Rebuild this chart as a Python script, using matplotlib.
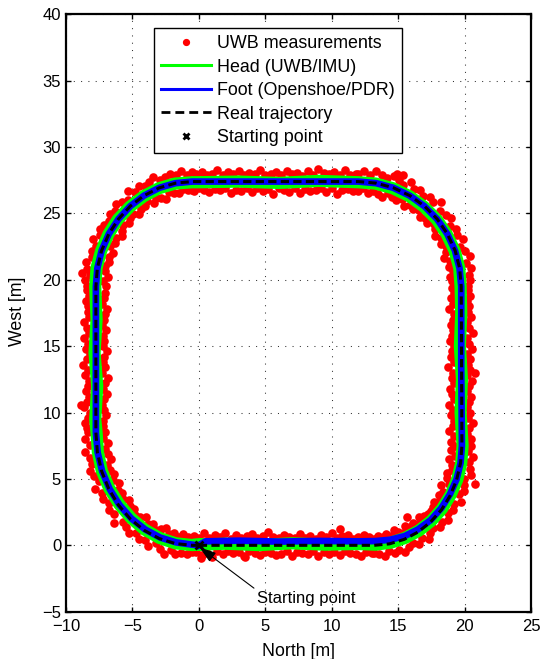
import matplotlib
matplotlib.use("Agg")
import matplotlib.pyplot as plt
from matplotlib.lines import Line2D

plt.rcParams['font.family'] = ['Liberation Sans', 'DejaVu Sans']

# ---------------- data ----------------
# Real trajectory (black dashed)
real_x = [0.0, 13.2, 14.35, 15.46, 16.5, 17.44, 18.26, 18.92, 19.4, 19.7, 19.8, 19.75, 19.63, 19.29, 18.71,
          17.94, 16.98, 15.88, 14.65, 13.35, 12.0, -0.5, -1.76, -2.98, -4.13, -5.16, -6.05, -6.78, -7.32,
          -7.64, -7.75, -7.75, -7.64, -7.32, -6.78, -6.05, -5.16, -4.13, -2.98, -1.76, -0.5, 0.0]
real_y = [0.0, 0.0, 0.11, 0.45, 1.0, 1.76, 2.68, 3.75, 4.93, 6.2, 7.5, 19.5, 20.87, 22.2, 23.45, 24.58,
          25.55, 26.34, 26.93, 27.28, 27.4, 27.4, 27.28, 26.93, 26.34, 25.55, 24.58, 23.45, 22.2, 20.87,
          19.5, 8.5, 7.02, 5.59, 4.25, 3.03, 1.99, 1.14, 0.51, 0.13, 0.0, 0.0]

# Head (UWB/IMU) estimate (green)
head_x = [0.0, 2.0, 4.5, 7.0, 9.5, 12.0, 13.3, 14.45, 15.5, 16.55, 17.5, 18.3, 18.95, 19.45, 19.75, 19.85,
          19.7, 19.8, 19.65, 19.75, 19.7, 19.6, 19.25, 18.65, 17.9, 16.95, 15.85, 14.6, 13.3, 12.0, 9.0,
          6.0, 3.0, 0.0, -0.5, -1.8, -3.0, -4.15, -5.2, -6.1, -6.8, -7.35, -7.7, -7.8, -7.7, -7.85, -7.65,
          -7.8, -7.7, -7.6, -7.3, -6.75, -6.0, -5.1, -4.1, -2.95, -1.75, -0.5, 0.0]
head_y = [0.05, 0.12, 0.02, 0.15, 0.05, 0.1, 0.05, 0.2, 0.55, 1.1, 1.85, 2.75, 3.8, 4.95, 6.2, 7.5, 10.0,
          12.5, 15.0, 17.5, 19.5, 20.9, 22.2, 23.45, 24.55, 25.5, 26.3, 26.9, 27.25, 27.35, 27.45, 27.3,
          27.4, 27.35, 27.35, 27.25, 26.9, 26.3, 25.5, 24.55, 23.45, 22.2, 20.9, 19.5, 17.0, 14.5, 12.0,
          9.5, 8.5, 7.0, 5.6, 4.3, 3.1, 2.05, 1.2, 0.55, 0.15, 0.02, 0.05]

# Foot (Openshoe/PDR) estimate (blue)
foot_x = [0.0, 0.5, 3.0, 6.0, 9.0, 12.0, 13.3, 14.4, 15.5, 16.5, 17.45, 18.25, 18.9, 19.4, 19.7, 19.8,
          19.75, 19.75, 19.62, 19.28, 18.7, 17.93, 16.97, 15.87, 14.64, 13.34, 12.0, -0.5, -1.76, -2.98,
          -4.13, -5.16, -6.05, -6.78, -7.32, -7.64, -7.75, -7.75, -7.62, -7.28, -6.72, -5.98, -5.08,
          -4.05, -2.9, -1.7, -0.5, 0.0]
foot_y = [0.0, 0.3, 0.35, 0.28, 0.33, 0.3, 0.32, 0.42, 0.7, 1.2, 1.9, 2.8, 3.85, 4.98, 6.2, 7.5, 13.5,
          19.5, 20.87, 22.2, 23.45, 24.58, 25.55, 26.34, 26.93, 27.28, 27.4, 27.4, 27.28, 26.93, 26.34,
          25.55, 24.58, 23.45, 22.2, 20.87, 19.5, 8.5, 7.0, 5.58, 4.25, 3.05, 2.02, 1.2, 0.58, 0.22,
          0.05, 0.0]

# UWB measurements (red dots), grouped by part of the loop
uwb_bottom_x = [-0.4, -0.2, 0.0, 0.2, 0.4, 0.6, 0.8, 1.0, 1.2, 1.4, 1.6, 1.8, 2.0, 2.2, 2.4, 2.6, 2.8, 3.0,
                3.2, 3.4, 3.6, 3.8, 4.0, 4.2, 4.4, 4.6, 4.8, 5.0, 5.2, 5.4, 5.6, 5.8, 6.0, 6.2, 6.4, 6.6,
                6.8, 7.0, 7.2, 7.4, 7.6, 7.8, 8.0, 8.2, 8.4, 8.6, 8.8, 9.0, 9.2, 9.4, 9.6, 9.8, 10.0, 10.2,
                10.4, 10.6, 10.8, 11.0, 11.2, 11.4, 11.6, 11.8, 12.0, 12.2, 12.4, 12.6, 12.8, 13.0]
uwb_bottom_y = [0.67, -0.50, 0.53, -0.73, 0.90, -0.55, 0.55, -0.85, 0.75, -0.40,
                0.63, -0.67, 0.95, -0.45, 0.50, -0.61, 0.80, -0.53, 0.57, -0.79,
                0.69, -0.43, 0.85, -0.57, 0.52, -0.70, 0.73, -0.47, 1.00, -0.55,
                0.60, -0.75, 0.55, -0.62, 0.79, -0.41, 0.65, -0.83, 0.54, -0.52,
                0.87, -0.59, 0.58, -0.68, 0.71, -0.45, 0.51, -0.80, 0.76, -0.54,
                0.62, -0.64, 0.93, -0.49, 0.55, -0.73, 0.68, -0.42, 0.81, -0.56,
                0.50, -0.65, 0.64, -0.78, 0.74, -0.47, 0.59, -0.60]

uwb_right_x = [20.28, 19.00, 20.50, 19.18, 20.17, 18.80, 20.36, 19.10, 20.62, 19.22,
               20.25, 18.95, 20.40, 19.14, 20.20, 18.85, 20.32, 19.24, 20.48, 19.06,
               20.22, 18.90, 20.30, 19.20, 20.56, 19.02, 20.15, 19.12, 20.44, 18.78,
               20.27, 19.17, 20.38, 18.98, 20.19, 19.08, 20.53, 19.23, 20.30, 18.92,
               20.20, 19.04, 20.65, 19.15, 20.34, 19.00, 20.16, 19.10, 20.46, 19.20,
               20.25, 18.86, 20.37, 19.13, 20.18, 18.96, 20.40, 19.24, 20.29, 19.05]
uwb_right_y = [7.6, 7.8, 8.0, 8.2, 8.4, 8.6, 8.8, 9.0, 9.2, 9.4, 9.6, 9.8, 10.0, 10.2, 10.4, 10.6, 10.8,
               11.0, 11.2, 11.4, 11.6, 11.8, 12.0, 12.2, 12.4, 12.6, 12.8, 13.0, 13.2, 13.4, 13.6, 13.8,
               14.0, 14.2, 14.4, 14.6, 14.8, 15.0, 15.2, 15.4, 15.6, 15.8, 16.0, 16.2, 16.4, 16.6, 16.8,
               17.0, 17.2, 17.4, 17.6, 17.8, 18.0, 18.2, 18.4, 18.6, 18.8, 19.0, 19.2, 19.4]

uwb_top_x = [11.8, 11.6, 11.4, 11.2, 11.0, 10.8, 10.6, 10.4, 10.2, 10.0, 9.8, 9.6, 9.4, 9.2, 9.0, 8.8,
             8.6, 8.4, 8.2, 8.0, 7.8, 7.6, 7.4, 7.2, 7.0, 6.8, 6.6, 6.4, 6.2, 6.0, 5.8, 5.6, 5.4, 5.2,
             5.0, 4.8, 4.6, 4.4, 4.2, 4.0, 3.8, 3.6, 3.4, 3.2, 3.0, 2.8, 2.6, 2.4, 2.2, 2.0, 1.8, 1.6,
             1.4, 1.2, 1.0, 0.8, 0.6, 0.4, 0.2, 0.0, -0.2, -0.4]
uwb_top_y = [28.00, 26.66, 27.90, 26.82, 28.26, 26.74, 27.87, 26.50, 28.10, 26.88,
             27.95, 26.60, 28.04, 26.95, 28.32, 26.80, 27.90, 26.70, 28.18, 26.85,
             27.85, 26.56, 28.08, 26.90, 27.98, 26.64, 28.22, 26.78, 27.92, 26.92,
             28.14, 26.45, 28.00, 26.84, 27.87, 26.72, 28.28, 26.90, 27.96, 26.60,
             28.05, 26.94, 27.90, 26.68, 28.20, 26.80, 27.94, 26.54, 28.10, 26.88,
             27.86, 26.75, 28.30, 26.83, 28.00, 26.65, 27.90, 26.78, 28.12, 26.91,
             27.97, 26.70]

uwb_left_x = [-8.40, -7.20, -8.60, -7.25, -8.35, -6.97, -8.23, -7.13, -8.67, -7.29,
              -8.45, -7.17, -8.30, -6.90, -8.50, -7.25, -8.37, -7.07, -8.25, -6.85,
              -8.55, -7.28, -8.33, -7.03, -8.70, -7.20, -8.41, -7.15, -8.23, -6.95,
              -8.47, -7.23, -8.35, -7.11, -8.61, -7.25, -8.29, -7.00, -8.43, -7.29,
              -8.65, -7.17, -8.25, -7.05, -8.37, -6.91, -8.31, -7.27, -8.53, -7.15,
              -8.27, -7.09, -8.45]
uwb_left_y = [8.8, 9.0, 9.2, 9.4, 9.6, 9.8, 10.0, 10.2, 10.4, 10.6, 10.8, 11.0, 11.2, 11.4, 11.6, 11.8,
              12.0, 12.2, 12.4, 12.6, 12.8, 13.0, 13.2, 13.4, 13.6, 13.8, 14.0, 14.2, 14.4, 14.6, 14.8,
              15.0, 15.2, 15.4, 15.6, 15.8, 16.0, 16.2, 16.4, 16.6, 16.8, 17.0, 17.2, 17.4, 17.6, 17.8,
              18.0, 18.2, 18.4, 18.6, 18.8, 19.0, 19.2]

uwb_bl_x = [-8.35, -7.05, -8.54, -7.24, -8.21, -6.87, -8.55, -7.07, -8.23, -6.86, -8.03, -6.59, -8.20,
            -6.92, -7.93, -6.66, -7.54, -6.40, -7.81, -6.47, -7.30, -6.00, -7.21, -6.08, -6.77, -5.80,
            -6.75, -5.74, -6.37, -5.26, -6.40, -5.17, -5.72, -4.85, -5.50, -4.78, -5.29, -4.41, -4.72,
            -3.96, -4.50, -3.85, -4.06, -3.43, -3.80, -3.25, -3.26, -2.84, -2.96, -2.45, -2.62, -2.22,
            -2.12, -1.85, -1.76, -1.55, -1.32, -1.17, -0.91, -0.84, -0.50, -0.50]
uwb_bl_y = [8.50, 8.50, 8.02, 8.08, 7.56, 7.70, 7.03, 7.27, 6.60, 6.89, 6.16, 6.54, 5.61, 6.03, 5.21,
            5.69, 4.86, 5.37, 4.21, 4.89, 3.95, 4.70, 3.46, 4.19, 3.21, 3.91, 2.65, 3.47, 2.38, 3.38, 1.71,
            2.95, 1.78, 2.74, 1.35, 2.25, 0.90, 2.11, 0.95, 2.12, 0.49, 1.62, 0.39, 1.64, -0.05, 1.19,
            0.14, 1.21, -0.25, 1.32, -0.63, 0.87, -0.35, 0.92, -0.69, 0.60, -0.55, 0.89, -0.69, 0.66,
            -0.50, 0.55]

uwb_br_x = [20.50, 19.20, 20.29, 18.99, 20.61, 19.27, 20.31, 18.83, 20.39, 19.02, 20.49, 19.04, 19.95,
            18.67, 19.97, 18.71, 19.96, 18.82, 19.57, 18.23, 19.70, 18.40, 19.24, 18.11, 19.11, 18.13,
            18.72, 17.71, 18.74, 17.62, 18.33, 17.44, 18.12, 17.25, 17.63, 16.91, 17.43, 16.55, 17.29,
            16.52, 16.78, 16.13, 16.56, 15.92, 16.09, 15.54, 15.81, 15.40, 15.53, 15.02, 15.06, 14.66,
            14.73, 14.46, 14.31, 14.10, 13.98, 13.83, 13.58, 13.51, 13.20, 13.20]
uwb_br_y = [7.50, 7.50, 7.08, 7.15, 6.62, 6.76, 6.24, 6.47, 5.78, 6.08, 5.31, 5.70, 5.03, 5.45, 4.58,
            5.07, 4.12, 4.63, 3.85, 4.53, 3.30, 4.05, 3.09, 3.82, 2.68, 3.38, 2.47, 3.29, 1.91, 2.92, 1.74,
            2.62, 1.37, 2.34, 1.32, 2.22, 0.95, 2.16, 0.45, 1.63, 0.53, 1.65, 0.10, 1.35, 0.19, 1.42,
            -0.16, 0.92, -0.54, 1.03, -0.32, 1.17, -0.57, 0.70, -0.40, 0.88, -0.81, 0.63, -0.64, 0.71,
            -0.55, 0.50]

uwb_tr_x = [20.25, 19.20, 20.44, 19.09, 20.31, 18.87, 20.45, 19.16, 20.12, 18.85, 20.40, 18.91, 20.04,
            18.47, 19.66, 18.58, 19.86, 18.63, 19.44, 18.19, 19.36, 18.24, 18.92, 17.75, 19.00, 17.78,
            18.57, 17.67, 18.17, 17.20, 18.26, 17.02, 17.62, 16.62, 17.38, 16.56, 16.85, 16.15, 16.63,
            15.90, 16.18, 15.43, 15.95, 15.27, 15.34, 14.83, 15.03, 14.54, 14.66, 14.24, 14.15, 13.76,
            13.75, 13.46, 13.35, 13.12, 12.87, 12.72, 12.44, 12.38, 12.00, 12.00]
uwb_tr_y = [19.50, 19.50, 19.95, 19.88, 20.39, 20.24, 20.86, 20.65, 21.26, 20.99, 21.79, 21.39, 22.16,
            21.65, 22.49, 22.08, 23.06, 22.51, 23.36, 22.72, 23.83, 23.18, 24.08, 23.32, 24.67, 23.79,
            24.91, 24.19, 25.15, 24.28, 25.86, 24.63, 25.85, 24.74, 26.26, 25.25, 26.30, 25.32, 26.76,
            25.62, 26.86, 25.56, 27.39, 26.05, 27.13, 25.99, 27.53, 26.27, 27.82, 26.54, 27.66, 26.21,
            27.86, 26.49, 28.19, 26.71, 27.86, 26.51, 28.19, 26.89, 28.00, 26.70]

uwb_tl_x = [-8.40, -7.00, -8.59, -7.24, -8.21, -6.82, -8.40, -7.07, -8.52, -7.05, -8.08, -6.73, -8.06,
            -6.78, -7.74, -6.48, -7.95, -6.67, -7.45, -6.34, -7.47, -6.26, -7.13, -5.79, -6.73, -5.76,
            -6.72, -5.74, -6.33, -5.29, -6.23, -5.20, -5.82, -4.98, -5.37, -4.49, -5.32, -4.38, -4.78,
            -4.07, -4.53, -3.88, -4.04, -3.41, -3.74, -3.21, -3.42, -2.83, -2.89, -2.45, -2.55, -2.24,
            -2.16, -1.86, -1.72, -1.51, -1.35, -1.21, -0.90, -0.84, -0.50, -0.50]
uwb_tl_y = [19.50, 19.50, 19.96, 19.88, 20.38, 20.24, 20.85, 20.64, 21.34, 21.03, 21.70, 21.34, 22.16,
            21.74, 22.51, 22.02, 23.08, 22.51, 23.34, 22.77, 23.85, 23.15, 24.16, 23.29, 24.41, 23.70,
            24.94, 24.15, 25.19, 24.25, 25.69, 24.66, 25.89, 24.96, 26.03, 24.94, 26.66, 25.37, 26.63,
            25.54, 27.03, 25.91, 27.03, 25.78, 27.36, 26.17, 27.72, 26.18, 27.49, 26.11, 27.76, 26.60,
            27.96, 26.54, 27.90, 26.51, 28.21, 26.86, 27.89, 26.74, 28.10, 26.80]

uwb_out_x = [15.66, 10.6, 3.47, 0.15, 15.4, 14.9, -8.8, 20.8, -8.9, 20.75]
uwb_out_y = [2.13, 1.25, -0.86, -0.95, 27.9, 27.95, 20.5, 13.0, 10.6, 4.6]

start_x = [0.0]
start_y = [0.0]

xticks = [-10, -5, 0, 5, 10, 15, 20, 25]
yticks = [-5, 0, 5, 10, 15, 20, 25, 30, 35, 40]

legend_labels = ['UWB measurements', 'Head (UWB/IMU)', 'Foot (Openshoe/PDR)', 'Real trajectory',
                 'Starting point']

# ---------------- figure ----------------
fig = plt.figure(figsize=(5.48, 6.59), dpi=100)
ax = fig.add_axes([66 / 548, (659 - 611.7) / 659, 465 / 548, 597.4 / 659])

red = '#ff0000'
groups = [(uwb_bottom_x, uwb_bottom_y), (uwb_right_x, uwb_right_y), (uwb_top_x, uwb_top_y),
          (uwb_left_x, uwb_left_y), (uwb_bl_x, uwb_bl_y), (uwb_br_x, uwb_br_y),
          (uwb_tr_x, uwb_tr_y), (uwb_tl_x, uwb_tl_y), (uwb_out_x, uwb_out_y)]
for gx, gy in groups:
    ax.plot(gx, gy, linestyle='none', marker='o', ms=6.2, color=red, mec=red, mew=0, zorder=2)

ax.plot(head_x, head_y, color='#00ff00', lw=8.8, solid_joinstyle='round', zorder=3)
ax.plot(foot_x, foot_y, color='#0000ff', lw=4.8, solid_joinstyle='round', zorder=4)
ax.plot(real_x, real_y, color='black', lw=2.2, linestyle=(0, (2.7, 1.4)), dash_capstyle='butt', zorder=5)
ax.plot(start_x, start_y, linestyle='none', marker='x', ms=6, mew=2, color='black', zorder=6)

ax.annotate('Starting point', xy=(0.05, -0.15), xytext=(8.06, -4.0), fontsize=12,
            ha='center', va='center',
            arrowprops=dict(arrowstyle='-|>,head_length=0.85,head_width=0.28', color='black', lw=0.8,
                            shrinkA=0, shrinkB=0, relpos=(0.02, 0.95)), zorder=7)

ax.set_xlim(-10, 25)
ax.set_ylim(-5, 40)
ax.set_xticks(xticks)
ax.set_yticks(yticks)
ax.grid(True, color='#333333', linestyle=(0, (1, 6)), lw=0.75)
ax.set_axisbelow(True)
ax.tick_params(direction='in', top=True, right=True, length=3.8, width=1.0, labelsize=12)
ax.tick_params(axis='x', pad=5.5)
ax.tick_params(axis='y', pad=3.5)
for sp in ax.spines.values():
    sp.set_linewidth(1.6)

ax.set_xlabel('North [m]', fontsize=12.8)
ax.set_ylabel('West [m]', fontsize=12.8)
ax.xaxis.set_label_coords(0.499, -0.053)
ax.yaxis.set_label_coords(-0.086, 0.502)

handles = [
    Line2D([], [], linestyle='none', marker='o', ms=4.2, color=red, mec=red),
    Line2D([], [], color='#00ff00', lw=2.2),
    Line2D([], [], color='#0000ff', lw=2.2),
    Line2D([], [], color='black', lw=2.0, linestyle=(0, (3.2, 1.8))),
    Line2D([], [], linestyle='none', marker='x', ms=5, mew=2, color='black'),
]
leg = ax.legend(handles, legend_labels, loc='upper left', bbox_to_anchor=(0.189, 0.977),
                borderaxespad=0, fontsize=12.9, handlelength=2.8, handletextpad=0.3,
                labelspacing=0.36, borderpad=0.4, fancybox=False, framealpha=1, edgecolor='black')
leg.get_frame().set_linewidth(1.0)
leg.set_zorder(10)

fig.savefig('out.png', dpi=100)
